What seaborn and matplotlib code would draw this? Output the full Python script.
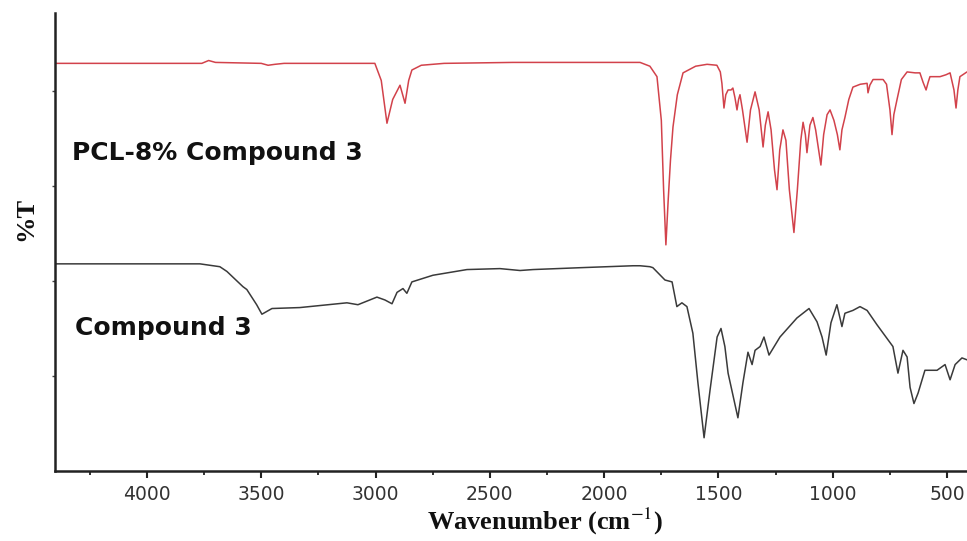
import numpy as np
import pandas as pd
import seaborn as sns
import matplotlib.pyplot as plt
from matplotlib.ticker import MultipleLocator

# ---------------------------------------------------------------
# FTIR spectra (wavenumber, %T in arbitrary units)
# ---------------------------------------------------------------
pcl_wn = [4400, 4200, 3760, 3730, 3700, 3500, 3470, 3440, 3400, 3100,
          3003, 2975, 2950, 2925, 2893, 2871, 2855, 2841, 2800, 2700,
          2400, 2000, 1843, 1800, 1769, 1750, 1740, 1730, 1720, 1710,
          1699, 1680, 1655, 1600, 1550, 1507, 1492, 1485, 1476, 1468,
          1458, 1445, 1437, 1428, 1419, 1412, 1406, 1395, 1375, 1360,
          1340, 1322, 1305, 1295, 1283, 1270, 1255, 1244, 1232, 1218,
          1205, 1190, 1170, 1155, 1140, 1130, 1120, 1113, 1100, 1087,
          1075, 1062, 1052, 1040, 1025, 1012, 995, 980, 969, 960,
          947, 930, 912, 880, 850, 846, 838, 824, 780, 765,
          750, 741, 733, 719, 700, 675, 640, 619, 605, 592,
          583, 575, 531, 505, 487, 470, 461, 453, 444, 413]
pcl_t = [4.29, 4.29, 4.29, 4.32, 4.30, 4.29, 4.27, 4.28, 4.29, 4.29,
         4.29, 4.11, 3.66, 3.91, 4.06, 3.87, 4.11, 4.22, 4.27, 4.29,
         4.30, 4.30, 4.30, 4.26, 4.15, 3.69, 2.96, 2.38, 2.85, 3.27,
         3.62, 3.96, 4.19, 4.26, 4.28, 4.27, 4.20, 4.08, 3.82, 3.96,
         4.01, 4.01, 4.03, 3.93, 3.80, 3.91, 3.96, 3.80, 3.46, 3.80,
         3.99, 3.80, 3.41, 3.64, 3.78, 3.59, 3.17, 2.96, 3.38, 3.59,
         3.48, 2.96, 2.51, 2.96, 3.48, 3.67, 3.54, 3.35, 3.64, 3.72,
         3.59, 3.38, 3.22, 3.54, 3.75, 3.80, 3.69, 3.54, 3.38, 3.59,
         3.72, 3.91, 4.04, 4.07, 4.08, 3.98, 4.06, 4.12, 4.12, 4.07,
         3.80, 3.54, 3.75, 3.91, 4.12, 4.20, 4.19, 4.19, 4.09, 4.01,
         4.09, 4.15, 4.15, 4.17, 4.19, 4.01, 3.82, 4.01, 4.15, 4.20]

cmp_wn = [4402, 4000, 3768, 3681, 3650, 3580, 3563, 3520, 3497, 3475,
          3453, 3331, 3125, 3077, 2994, 2959, 2928, 2906, 2880, 2863,
          2841, 2749, 2600, 2456, 2368, 2311, 2100, 1874, 1843, 1800,
          1787, 1734, 1703, 1682, 1660, 1638, 1612, 1590, 1563, 1537,
          1506, 1489, 1472, 1458, 1415, 1393, 1371, 1353, 1340, 1318,
          1301, 1279, 1231, 1157, 1104, 1069, 1047, 1029, 1008, 982,
          960, 947, 912, 881, 850, 807, 737, 715, 693, 675,
          662, 645, 627, 597, 544, 509, 487, 465, 435, 413]
cmp_t = [2.18, 2.18, 2.18, 2.15, 2.10, 1.94, 1.91, 1.75, 1.65, 1.68,
         1.71, 1.72, 1.77, 1.75, 1.83, 1.80, 1.76, 1.88, 1.92, 1.87,
         1.99, 2.06, 2.12, 2.13, 2.11, 2.12, 2.14, 2.16, 2.16, 2.15,
         2.14, 2.01, 1.99, 1.73, 1.77, 1.73, 1.45, 0.93, 0.35, 0.85,
         1.41, 1.50, 1.31, 1.03, 0.56, 0.93, 1.25, 1.12, 1.27, 1.31,
         1.41, 1.22, 1.41, 1.61, 1.71, 1.57, 1.41, 1.22, 1.56, 1.75,
         1.52, 1.66, 1.69, 1.73, 1.69, 1.54, 1.31, 1.03, 1.27, 1.20,
         0.88, 0.71, 0.82, 1.06, 1.06, 1.12, 0.96, 1.12, 1.19, 1.17]

x_major = [4000, 3500, 3000, 2500, 2000, 1500, 1000, 500]
y_ticks = [1, 2, 3, 4]

pcl_label = "PCL-8% Compound 3"
cmp_label = "Compound 3"

# ---------------------------------------------------------------
sns.set_style("ticks")
plt.rcParams['font.family'] = ['DejaVu Sans']
plt.rcParams['mathtext.fontset'] = 'stix'

fig = plt.figure(figsize=(9.67, 5.41), dpi=100)
ax = fig.add_axes([55/967, 70/541, 912/967, 458/541])

pclDF = pd.DataFrame({"wn": pcl_wn, "T": pcl_t})
cmpDF = pd.DataFrame({"wn": cmp_wn, "T": cmp_t})

sns.lineplot(data=pclDF, x="wn", y="T", ax=ax, color="#d2424b",
             linewidth=1.1, sort=False, estimator=None)
sns.lineplot(data=cmpDF, x="wn", y="T", ax=ax, color="#3a3a3a",
             linewidth=1.1, sort=False, estimator=None)

ax.set_xlim(4402, 413)
ax.set_ylim(0, 4.82)
ax.set_xticks(x_major)
ax.xaxis.set_minor_locator(MultipleLocator(250))
ax.set_yticks(y_ticks)
ax.set_yticklabels([])

ax.tick_params(axis="x", which="major", length=5, width=1.5, colors="#222222",
               labelsize=13.5, labelcolor="#333333", pad=5)
ax.tick_params(axis="x", which="minor", length=3, width=1.3, colors="#222222")
ax.tick_params(axis="y", which="major", length=2, width=1.0, colors="#444444")

sns.despine(ax=ax, top=True, right=True)
for s in ["left", "bottom"]:
    ax.spines[s].set_linewidth(1.8)
    ax.spines[s].set_color("#222222")

ax.text(4328, 3.35, pcl_label, fontsize=18, fontweight="bold",
        color="#111111", va="center", ha="left")
ax.text(4315, 1.51, cmp_label, fontsize=18, fontweight="bold",
        color="#111111", va="center", ha="left")

ax.set_xlabel(r"Wavenumber (cm$^{\rm{-1}}$)", fontsize=19, fontweight="bold",
              family="Liberation Serif", color="#111111")
ax.xaxis.set_label_coords(0.537, -0.077)
ax.set_ylabel("%T", fontsize=19, fontweight="bold",
              family="Liberation Serif", color="#111111")
ax.yaxis.set_label_coords(-0.02, 0.55)

fig.savefig("out.png", dpi=100)
